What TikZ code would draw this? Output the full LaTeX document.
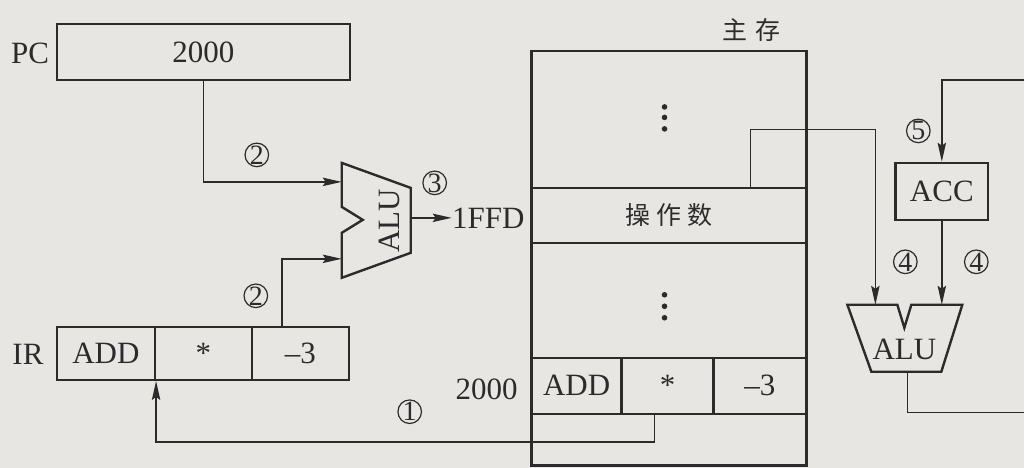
\documentclass[tikz,border=0pt]{standalone}
\usepackage{fontspec}
\setmainfont{Liberation Serif}
\newfontfamily\cjk{Noto Sans CJK SC}
\usepackage{xcolor}
\usetikzlibrary{arrows.meta, calc}

\definecolor{ink}{HTML}{2B2B2B}
\definecolor{paper}{HTML}{E8E6E3}

\begin{document}
\begin{tikzpicture}[x=0.5pt, y=-0.5pt, >={Stealth[length=9.5pt, width=4.2pt, inset=1.5pt]},
    every node/.style={font=\fontsize{15.5}{18}\selectfont, text=ink},
    cell/.style={rectangle, draw=ink, line width=1.2pt, inner sep=0pt, minimum height=26.5pt},
    num/.style={circle, draw=ink, line width=0.6pt, inner sep=0pt, minimum size=11.8pt, font=\fontsize{14}{16}\selectfont},
    han/.style={font=\cjk\fontsize{12.5}{15}\selectfont},
    wire/.style={draw=ink, line width=0.75pt},
    alu/.style={draw=ink, line width=1.2pt, line join=miter},
]
\fill[paper] (0,0) rectangle (1025,468);

% registers
\node (pclbl) at (30,53) {PC};
\node[cell, minimum width=146.5pt, minimum height=28pt] (pc) at (203.5,52) {2000};
\node (irlbl) at (28,355) {IR};
\node[cell, minimum width=49pt] (irA) at (106,353.5) {ADD};
\node[cell, minimum width=48.5pt] (irB) at (203.5,353.5) {*};
\node[cell, minimum width=48.5pt] (irC) at (300.5,353.5) {--3};

% main memory
\node[han] (memlbl) at (752,30) {主\hspace{0.35em}存};
\node[cell, minimum width=137.5pt, minimum height=207.5pt] (mem) at (669.5,258.5) {};
\node[cell, han, minimum width=137.5pt, minimum height=27.5pt] (opnd) at (669.5,215.5) {操\hspace{0.25em}作\hspace{0.25em}数};
\node[cell, minimum width=45pt, minimum height=28pt] (memA) at (577,386) {ADD};
\node[cell, minimum width=46pt, minimum height=28pt] (memB) at (668,386) {*};
\node[cell, minimum width=46.5pt, minimum height=28pt] (memC) at (760.5,386) {--3};
\foreach \y in {107,117.5,129,295,306.5,318}
  \fill[ink] (665,\y) circle (1.4pt);
\node (addr) at (487,390) {2000};
\node[anchor=west, inner sep=0pt] (ffd) at (452,218) {1FFD};

% accumulator
\node[cell, minimum width=46.5pt, minimum height=28.5pt] (acc) at (942.5,191.5) {ACC};

% ALUs
\draw[alu] (342,163) -- (411,188) -- (411,253) -- (342,278) -- (342,233) -- (363,220) -- (342,207) -- cycle;
\node[rotate=90] (aluAtxt) at (390,221) {ALU};
\coordinate (aluA-in1) at (342,182);
\coordinate (aluA-in2) at (342,259);
\coordinate (aluA-out) at (411,218);

\draw[alu] (848,305) -- (898,305) -- (905,328) -- (912,305) -- (963,305) -- (942,372) -- (872,372) -- cycle;
\node (aluBtxt) at (905,350) {ALU};
\coordinate (aluB-in1) at (876,305);
\coordinate (aluB-in2) at (942.5,305);
\coordinate (aluB-out) at (908,372);

\coordinate (loopR) at (1025,413);
\coordinate (loopT) at (1025,80);

% data paths
\draw[wire,->] (pc.south) |- (aluA-in1);
\draw[wire,->] ([xshift=-9.25pt]irC.north) |- (aluA-in2);
\draw[wire,->] ([xshift=-6.5pt]memB.south) |- ([yshift=-30.5pt]irA.south east) -- (irA.south east);
\draw[wire,->] (aluA-out) -- (ffd.west);
\draw[wire,->] ([xshift=40.75pt]opnd.north) -- ++(0,-57) -| (aluB-in1);
\draw[wire,->] (acc.south) -- (aluB-in2);
\draw[wire] (aluB-out) |- (loopR);
\draw[wire,->] (loopT) -| (acc.north);

% step numbers
\node[num] (s1) at (410,412) {1};
\node[num] (s2a) at (257,155) {2};
\node[num] (s2b) at (256,296) {2};
\node[num] (s3) at (435,183) {3};
\node[num] (s4a) at (906,262) {4};
\node[num] (s4b) at (977,262) {4};
\node[num] (s5) at (919,131) {5};
\end{tikzpicture}
\end{document}
